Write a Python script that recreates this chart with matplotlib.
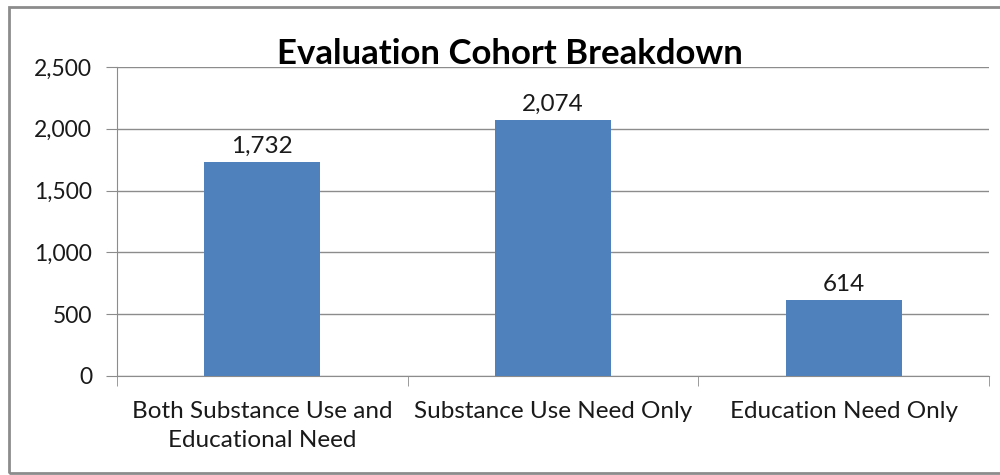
import matplotlib.pyplot as plt
from matplotlib.patches import Rectangle
from matplotlib.ticker import FuncFormatter

categories = ["Both Substance Use and\nEducational Need", "Substance Use Need Only", "Education Need Only"]
counts = [1732, 2074, 614]
yticks = [0, 500, 1000, 1500, 2000, 2500]

plt.rcParams['font.family'] = ['Lato', 'DejaVu Sans']

fig = plt.figure(figsize=(10, 4.75), dpi=100)
# chart frame (extends beyond right edge like the original)
fig.patches.append(Rectangle((0.009, 0.004), 1.2, 0.981, transform=fig.transFigure,
                             fill=False, edgecolor='#8c8c8c', linewidth=2))

ax = fig.add_axes([0.117, 1 - 376 / 475, 0.872, (376 - 67) / 475])
x = range(len(categories))
ax.bar(x, counts, width=0.4, color='#4f81bd', zorder=3)
for i, v in enumerate(counts):
    ax.text(i, v + 40, f"{v:,}", ha='center', va='bottom', fontsize=17.5, color='#1a1a1a')

ax.set_xlim(-0.5, len(categories) - 0.5)
ax.set_ylim(0, 2500)
ax.set_yticks(yticks)
ax.yaxis.set_major_formatter(FuncFormatter(lambda v, p: f"{int(v):,}"))
ax.set_xticks(list(x))
ax.set_xticklabels(categories, linespacing=1.45)
ax.set_xticks([-0.5, 0.5, 1.5, 2.5], minor=True)
ax.tick_params(axis='x', which='major', length=0, pad=18, labelsize=17.5, labelcolor='#1a1a1a')
ax.tick_params(axis='x', which='minor', length=7, color='#8c8c8c')
ax.tick_params(axis='y', length=8, color='#8c8c8c', labelsize=16.5, labelcolor='#1a1a1a', pad=10)
ax.grid(axis='y', color='#8c8c8c', linewidth=1, zorder=0)
for s in ['top', 'right']:
    ax.spines[s].set_visible(False)
ax.spines['left'].set_color('#8c8c8c')
ax.spines['bottom'].set_color('#8c8c8c')

fig.text(0.51, 0.887, "Evaluation Cohort Breakdown", ha='center', va='center',
         fontsize=25, fontweight='bold', color='black')

fig.savefig("out.png")
